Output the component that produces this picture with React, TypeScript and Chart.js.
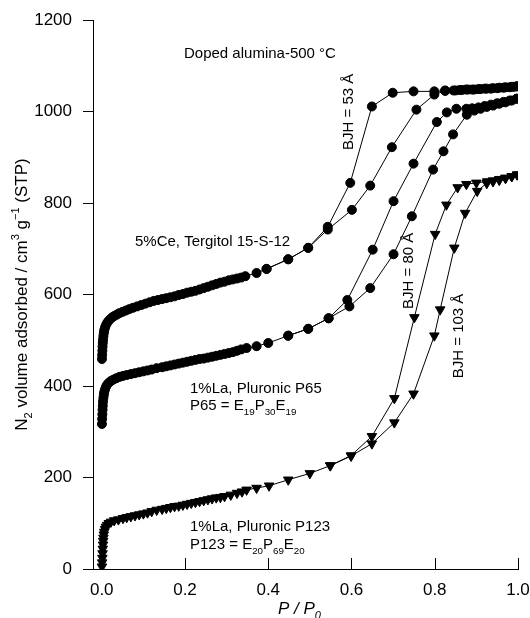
import React, { useEffect, useRef } from 'react';
import { Chart, registerables } from 'chart.js';

Chart.register(...registerables);

// ---------- data ----------
const xTickValues = [0, 0.2, 0.4, 0.6, 0.8, 1.0];
const yTickValues = [0, 200, 400, 600, 800, 1000, 1200];

// 5%Ce, Tergitol 15-S-12 (circles)
const ceAdsorption: [number, number][] = [
  [0.0005, 459], [0.001, 468], [0.0015, 477], [0.002, 486], [0.0025, 494], [0.003, 501], [0.004, 509],
  [0.005, 516], [0.006, 522], [0.008, 528], [0.010, 533], [0.013, 538], [0.016, 542], [0.020, 546],
  [0.025, 550], [0.030, 553], [0.036, 556], [0.042, 559], [0.050, 562], [0.058, 565], [0.066, 568],
  [0.075, 571], [0.085, 574], [0.095, 577], [0.105, 580], [0.115, 583], [0.125, 586], [0.135, 588],
  [0.145, 590], [0.155, 592], [0.165, 594], [0.175, 596], [0.185, 599], [0.195, 601], [0.205, 604],
  [0.215, 606], [0.225, 608], [0.235, 611], [0.245, 614], [0.255, 617], [0.265, 620], [0.275, 623],
  [0.285, 626], [0.295, 628], [0.305, 631], [0.315, 633], [0.325, 635], [0.335, 637], [0.345, 640],
  [0.372, 647], [0.396, 656], [0.448, 677], [0.496, 702], [0.543, 742], [0.601, 785], [0.645, 838],
  [0.697, 922], [0.756, 1004], [0.799, 1037], [0.825, 1045], [0.845, 1046], [0.86, 1047], [0.875, 1048],
  [0.89, 1048], [0.905, 1049], [0.92, 1050], [0.935, 1050], [0.95, 1051], [0.965, 1052], [0.98, 1053],
  [0.99, 1054], [0.997, 1055],
];
const ceDesorption: [number, number][] = [
  [0.997, 1055], [0.985, 1054], [0.97, 1053], [0.955, 1052], [0.94, 1051], [0.925, 1050], [0.91, 1049],
  [0.895, 1048], [0.88, 1048], [0.865, 1047], [0.85, 1046], [0.825, 1046], [0.799, 1044], [0.749, 1044],
  [0.699, 1041], [0.649, 1011], [0.597, 844], [0.543, 748], [0.496, 702], [0.448, 677], [0.396, 656],
];

// 1%La, Pluronic P65 (circles)
const p65Adsorption: [number, number][] = [
  [0.0005, 317], [0.001, 328], [0.0015, 338], [0.002, 348], [0.0025, 357], [0.003, 366], [0.004, 374],
  [0.005, 381], [0.006, 387], [0.008, 393], [0.010, 398], [0.013, 403], [0.017, 407], [0.022, 411],
  [0.028, 414], [0.035, 417], [0.043, 420], [0.051, 422], [0.06, 424], [0.07, 426], [0.08, 428],
  [0.09, 430], [0.10, 432], [0.11, 434], [0.12, 436], [0.132, 439], [0.145, 441], [0.155, 443],
  [0.165, 445], [0.175, 447], [0.185, 449], [0.195, 451], [0.205, 453], [0.215, 455], [0.225, 457],
  [0.235, 459], [0.245, 460], [0.255, 462], [0.265, 464], [0.275, 466], [0.285, 468], [0.295, 470],
  [0.305, 472], [0.315, 474], [0.325, 477], [0.335, 480], [0.348, 483], [0.372, 487], [0.40, 494],
  [0.448, 510], [0.496, 525], [0.545, 548], [0.595, 574], [0.645, 614], [0.701, 688], [0.745, 771],
  [0.796, 873], [0.821, 913], [0.844, 950], [0.877, 993], [0.895, 1002], [0.91, 1006], [0.925, 1010],
  [0.94, 1013], [0.955, 1017], [0.97, 1020], [0.985, 1024], [0.997, 1028],
];
const p65Desorption: [number, number][] = [
  [0.997, 1028], [0.98, 1024], [0.965, 1021], [0.95, 1018], [0.935, 1015], [0.92, 1012], [0.905, 1009],
  [0.89, 1007], [0.876, 1006], [0.852, 1006], [0.829, 998], [0.805, 977], [0.749, 886], [0.701, 804],
  [0.651, 698], [0.590, 588], [0.545, 548], [0.496, 525], [0.448, 510],
];

// 1%La, Pluronic P123 (down triangles)
const p123Adsorption: [number, number][] = [
  [0.0005, 5], [0.001, 14], [0.0015, 24], [0.002, 34], [0.0025, 44], [0.003, 53], [0.0035, 61],
  [0.004, 68], [0.005, 75], [0.006, 81], [0.008, 87], [0.010, 92], [0.013, 96], [0.017, 100],
  [0.022, 103], [0.03, 106], [0.04, 108], [0.051, 111], [0.06, 113], [0.07, 115], [0.08, 117],
  [0.09, 119], [0.10, 121], [0.11, 123], [0.12, 126], [0.132, 129], [0.145, 131], [0.155, 133],
  [0.165, 135], [0.175, 137], [0.185, 138], [0.195, 140], [0.205, 142], [0.215, 144], [0.225, 146],
  [0.235, 148], [0.245, 150], [0.255, 152], [0.265, 154], [0.275, 156], [0.285, 157], [0.295, 159],
  [0.31, 162], [0.325, 166], [0.337, 169], [0.348, 173], [0.372, 177], [0.402, 182], [0.448, 195],
  [0.50, 209], [0.549, 226], [0.599, 247], [0.649, 274], [0.703, 320], [0.749, 383], [0.799, 510],
  [0.813, 567], [0.847, 702], [0.873, 778], [0.902, 826], [0.925, 843], [0.94, 847], [0.955, 850],
  [0.97, 854], [0.985, 858], [0.998, 862],
];
const p123Desorption: [number, number][] = [
  [0.998, 862], [0.985, 858], [0.97, 855], [0.955, 852], [0.94, 849], [0.926, 847], [0.90, 844],
  [0.876, 841], [0.855, 834], [0.828, 796], [0.801, 732], [0.751, 550], [0.703, 373], [0.649, 290],
  [0.599, 248], [0.549, 226],
];

// ---------- text ----------
type Seg = { t: string; s?: 'sub' | 'sup' };
const titleText = 'Doped alumina-500 \u00B0C';
const ceLabel = '5%Ce, Tergitol 15-S-12';
const p65Label = '1%La, Pluronic P65';
const p65Formula: Seg[] = [{ t: 'P65 = E' }, { t: '19', s: 'sub' }, { t: 'P' }, { t: '30', s: 'sub' }, { t: 'E' }, { t: '19', s: 'sub' }];
const p123Label = '1%La, Pluronic P123';
const p123Formula: Seg[] = [{ t: 'P123 = E' }, { t: '20', s: 'sub' }, { t: 'P' }, { t: '69', s: 'sub' }, { t: 'E' }, { t: '20', s: 'sub' }];
const bjh53 = 'BJH = 53 \u00C5';
const bjh80 = 'BJH = 80 \u00C5';
const bjh103 = 'BJH = 103 \u00C5';
const yTitle: Seg[] = [
  { t: 'N' }, { t: '2', s: 'sub' }, { t: ' volume adsorbed / cm' }, { t: '3', s: 'sup' },
  { t: ' g' }, { t: '\u22121', s: 'sup' }, { t: ' (STP)' },
];
const xTitle: Seg[] = [{ t: 'P / P' }, { t: '0', s: 'sub' }];

const FONT = '"Liberation Sans", Arial, Helvetica, sans-serif';

function drawRich(ctx: CanvasRenderingContext2D, segs: Seg[], x: number, y: number, size: number, italic = false) {
  let cx = x;
  for (const seg of segs) {
    const fs = seg.s ? size * 0.65 : size;
    const dy = seg.s === 'sub' ? size * 0.3 : seg.s === 'sup' ? -size * 0.42 : 0;
    ctx.font = `${italic ? 'italic ' : ''}${fs}px ${FONT}`;
    ctx.fillText(seg.t, cx, y + dy);
    cx += ctx.measureText(seg.t).width;
  }
  return cx - x;
}

function measureRich(ctx: CanvasRenderingContext2D, segs: Seg[], size: number, italic = false) {
  let w = 0;
  for (const seg of segs) {
    const fs = seg.s ? size * 0.65 : size;
    ctx.font = `${italic ? 'italic ' : ''}${fs}px ${FONT}`;
    w += ctx.measureText(seg.t).width;
  }
  return w;
}

const overlayPlugin = {
  id: 'overlay',
  afterDraw(chart: any) {
    const ctx: CanvasRenderingContext2D = chart.ctx;
    const xs = chart.scales.x;
    const area = chart.chartArea;
    ctx.save();
    // inward x ticks
    ctx.strokeStyle = '#000';
    ctx.lineWidth = 1;
    for (const v of xTickValues) {
      const px = Math.round(xs.getPixelForValue(v)) + 0.5;
      ctx.beginPath();
      ctx.moveTo(px, area.bottom);
      ctx.lineTo(px, area.bottom - 11);
      ctx.stroke();
    }
    ctx.fillStyle = '#000';
    ctx.textAlign = 'left';
    ctx.textBaseline = 'alphabetic';
    const fs = 15;
    drawRich(ctx, [{ t: titleText }], 184, 57.5, fs);
    drawRich(ctx, [{ t: ceLabel }], 135, 246, fs);
    drawRich(ctx, [{ t: p65Label }], 190, 392.7, fs);
    drawRich(ctx, p65Formula, 190, 410, fs);
    drawRich(ctx, [{ t: p123Label }], 190, 531, fs);
    drawRich(ctx, p123Formula, 190, 549, fs);
    const rot = (txt: string, bx: number, by: number) => {
      ctx.save();
      ctx.translate(bx, by);
      ctx.rotate(-Math.PI / 2);
      drawRich(ctx, [{ t: txt }], 0, 0, fs);
      ctx.restore();
    };
    rot(bjh53, 352.5, 150);
    rot(bjh80, 413.3, 309);
    rot(bjh103, 463.3, 378.3);
    // axis titles
    const ts = 17;
    const yw = measureRich(ctx, yTitle, ts);
    ctx.save();
    ctx.translate(26.5, (area.top + area.bottom) / 2 + yw / 2);
    ctx.rotate(-Math.PI / 2);
    drawRich(ctx, yTitle, 0, 0, ts);
    ctx.restore();
    drawRich(ctx, xTitle, 278, 614, ts, true);
    ctx.restore();
  },
};

function ds(data: [number, number][], style: string, radius: number) {
  return {
    data: data.map(([x, y]) => ({ x, y })),
    showLine: true,
    borderColor: '#000',
    borderWidth: 1,
    backgroundColor: '#000',
    pointBackgroundColor: '#000',
    pointBorderColor: '#000',
    pointBorderWidth: 1,
    pointRadius: radius,
    pointStyle: style,
    pointRotation: style === 'triangle' ? 180 : 0,
    tension: 0,
    fill: false,
  };
}

export default function App() {
  const ref = useRef<HTMLCanvasElement | null>(null);
  useEffect(() => {
    if (!ref.current) return;
    const tickFont = { family: FONT, size: 17 };
    const chart = new Chart(ref.current, {
      type: 'scatter',
      data: {
        datasets: [
          ds(ceAdsorption, 'circle', 4.5),
          ds(ceDesorption, 'circle', 4.5),
          ds(p65Adsorption, 'circle', 4.5),
          ds(p65Desorption, 'circle', 4.5),
          ds(p123Adsorption, 'triangle', 5.5),
          ds(p123Desorption, 'triangle', 5.5),
        ] as any,
      },
      options: {
        animation: false,
        responsive: false,
        devicePixelRatio: 1,
        layout: { padding: { left: 0, top: 20, right: 12, bottom: 0 } },
        plugins: { legend: { display: false }, tooltip: { enabled: false } },
        scales: {
          x: {
            type: 'linear',
            min: -0.021,
            max: 1.0,
            grid: { display: false },
            border: { display: true, color: '#000', width: 1 },
            ticks: {
              color: '#000',
              font: tickFont,
              padding: 3,
              maxRotation: 0,
              callback: (v: any) => Number(v).toFixed(1),
            },
            afterBuildTicks: (scale: any) => {
              scale.ticks = xTickValues.map((value) => ({ value }));
            },
            afterFit: (scale: any) => {
              scale.height = 49;
              scale.paddingLeft = 0;
              scale.paddingRight = 0;
            },
          },
          y: {
            type: 'linear',
            min: 0,
            max: 1200,
            grid: { display: true, drawOnChartArea: false, drawTicks: true, tickLength: 10, color: '#000', tickColor: '#000', tickWidth: 1 },
            border: { display: true, color: '#000', width: 1 },
            ticks: { color: '#000', font: tickFont, padding: 11, callback: (v: any) => String(v) },
            afterBuildTicks: (scale: any) => {
              scale.ticks = yTickValues.map((value) => ({ value }));
            },
            afterFit: (scale: any) => {
              scale.width = 93;
              scale.paddingTop = 0;
              scale.paddingBottom = 0;
            },
          },
        },
      } as any,
      plugins: [overlayPlugin],
    });
    return () => chart.destroy();
  }, []);
  return (
    <canvas
      ref={ref}
      width={530}
      height={618}
      style={{ position: 'fixed', left: 0, top: 0, width: 530, height: 618, display: 'block', background: '#fff' }}
    />
  );
}
